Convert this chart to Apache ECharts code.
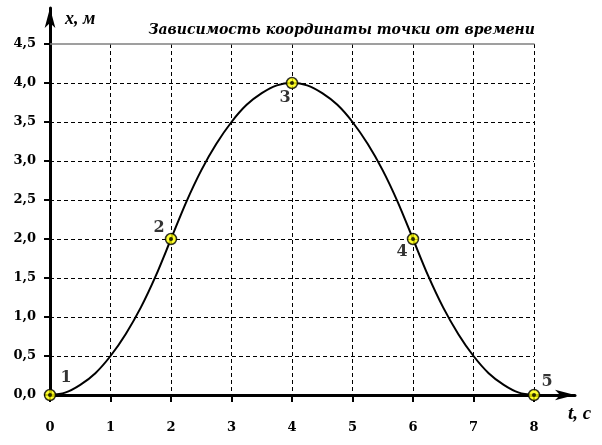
<!DOCTYPE html>
<html>
<head>
<meta charset="utf-8">
<script src="https://cdn.jsdelivr.net/npm/echarts@6/dist/echarts.min.js"></script>
<style>
  html, body { margin: 0; padding: 0; background: #fff; }
  #chart { width: 602px; height: 445px; }
</style>
</head>
<body>
<div id="chart"></div>
<script>
// время, с и координата, м
const timeValues = [0, 0.25, 0.5, 0.75, 1, 1.25, 1.5, 1.75, 2, 2.25, 2.5, 2.75, 3, 3.25, 3.5, 3.75,
  4, 4.25, 4.5, 4.75, 5, 5.25, 5.5, 5.75, 6, 6.25, 6.5, 6.75, 7, 7.25, 7.5, 7.75, 8];
const coordValues = [0, 0.03, 0.13, 0.28, 0.5, 0.78, 1.12, 1.53, 2, 2.47, 2.88, 3.22, 3.5, 3.72, 3.87, 3.97,
  4, 3.97, 3.87, 3.72, 3.5, 3.22, 2.88, 2.47, 2, 1.53, 1.12, 0.78, 0.5, 0.28, 0.13, 0.03, 0];

// отмеченные точки
const pointTimes = [0, 2, 4, 6, 8];
const pointCoords = [0, 2, 4, 2, 0];
const pointNames = ["1", "2", "3", "4", "5"];
const labelOffsets = [[16, -17], [-12, -11], [-7, 15], [-11, 13], [13, -13]];

const serif = "Liberation Serif";
const tickFont = { fontFamily: "DejaVu Serif", fontWeight: "bold", fontSize: 13, color: "#000" };
const labelFont = { fontFamily: "DejaVu Serif", fontWeight: "bold", fontSize: 16, color: "#000" };

const chart = echarts.init(document.getElementById("chart"));

const option = {
  animation: false,
  title: [
    {
      text: "Зависимость координаты точки от времени",
      right: 62,
      top: 18,
      textStyle: { fontFamily: "DejaVu Serif", fontStyle: "italic", fontWeight: "bold", fontSize: 14, color: "#000" }
    },
    {
      text: "x, м",
      left: 60,
      top: 5,
      textStyle: { fontFamily: serif, fontStyle: "italic", fontWeight: "bold", fontSize: 18, color: "#000" }
    },
    {
      text: "t, с",
      left: 563,
      top: 400,
      textStyle: { fontFamily: serif, fontStyle: "italic", fontWeight: "bold", fontSize: 19, color: "#000" }
    }
  ],
  grid: [
    { left: 50, right: 68, top: 44, bottom: 50 },
    { left: 50, right: 27, top: 8, bottom: 50 }
  ],
  xAxis: [
    {
      type: "value",
      gridIndex: 0,
      min: 0,
      max: 8,
      interval: 1,
      axisLine: { show: false },
      axisTick: { show: true, length: 7, lineStyle: { color: "#000", width: 2 } },
      axisLabel: { margin: 26, ...tickFont },
      splitLine: { show: true, showMinLine: false, lineStyle: { color: "#000", width: 1, type: [4, 3] } }
    },
    {
      type: "value",
      gridIndex: 1,
      min: 0,
      max: 1,
      axisLine: {
        show: true,
        symbol: ["none", "arrow"],
        symbolSize: [8, 20],
        lineStyle: { color: "#000", width: 3 }
      },
      axisTick: { show: false },
      axisLabel: { show: false },
      splitLine: { show: false }
    },
    {
      type: "value",
      gridIndex: 0,
      position: "top",
      min: 0,
      max: 8,
      axisLine: { show: true, lineStyle: { color: "#808080", width: 1.5 } },
      axisTick: { show: false },
      axisLabel: { show: false },
      splitLine: { show: false }
    }
  ],
  yAxis: [
    {
      type: "value",
      gridIndex: 0,
      min: 0,
      max: 4.5,
      interval: 0.5,
      axisLine: { show: false },
      axisTick: { show: true, length: 6, lineStyle: { color: "#000", width: 2 } },
      axisLabel: {
        margin: 14,
        ...tickFont,
        formatter: v => v.toFixed(1).replace(".", ",")
      },
      splitLine: { show: true, showMinLine: false, showMaxLine: false, lineStyle: { color: "#000", width: 1, type: [4, 3] } }
    },
    {
      type: "value",
      gridIndex: 1,
      min: 0,
      max: 1,
      axisLine: {
        show: true,
        symbol: ["none", "arrow"],
        symbolSize: [8, 20],
        lineStyle: { color: "#000", width: 3 }
      },
      axisTick: { show: false },
      axisLabel: { show: false },
      splitLine: { show: false }
    }
  ],
  series: [
    {
      type: "line",
      xAxisIndex: 0,
      yAxisIndex: 0,
      data: timeValues.map((t, i) => [t, coordValues[i]]),
      smooth: 0.3,
      showSymbol: false,
      lineStyle: { color: "#000", width: 2 },
      z: 5
    },
    {
      type: "scatter",
      xAxisIndex: 0,
      yAxisIndex: 0,
      symbol: "circle",
      symbolSize: 11,
      itemStyle: { color: "#ffff00", borderColor: "#000", borderWidth: 1.5 },
      data: pointTimes.map((t, i) => ({
        value: [t, pointCoords[i]],
        label: {
          show: true,
          formatter: pointNames[i],
          position: "inside",
          offset: labelOffsets[i],
          ...labelFont,
          textBorderWidth: 0
        }
      })),
      z: 10
    },
    {
      type: "scatter",
      xAxisIndex: 0,
      yAxisIndex: 0,
      symbol: "circle",
      symbolSize: 4,
      itemStyle: { color: "#000" },
      data: pointTimes.map((t, i) => [t, pointCoords[i]]),
      z: 11
    }
  ]
};

chart.setOption(option);
</script>
</body>
</html>
